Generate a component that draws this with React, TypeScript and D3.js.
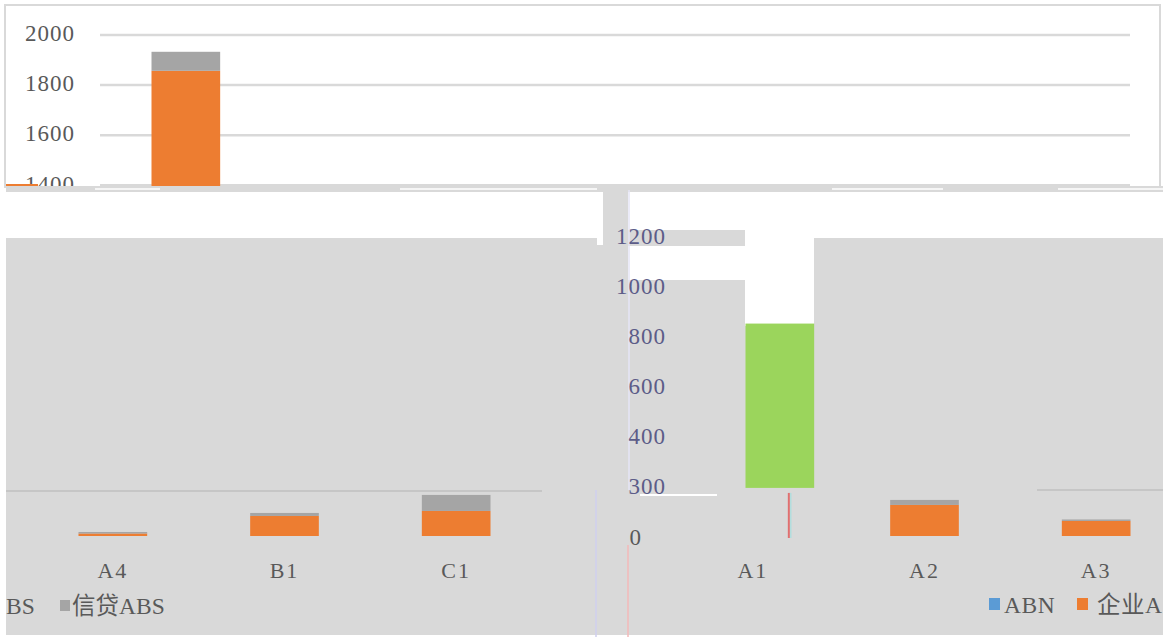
import React, { useEffect, useRef } from 'react'
import * as d3 from 'd3'

// chart values
const categories = ["A1", "A2", "A3", "A4", "B1", "C1"]
const abn = [0, 0, 0, 0, 0, 0]
const corpAbs = [1857, 124, 60, 10, 80, 100]
const creditAbs = [76, 20, 6, 6, 12, 64]
const leftCats = ["A4", "B1", "C1"]
const rightCats = ["A1", "A2", "A3"]
const greenSpan = [192, 848]
const abnSpike = [-8, 172]
const topTicks = [1400, 1600, 1800, 2000]
const midTicks = [200, 400, 600, 800, 1000, 1200]
const midTickLabels = ["300", "400", "600", "800", "1000", "1200"]
const seriesNames = ["ABN", "企业ABS", "信贷ABS"]
const seriesColors = ["#5b9bd5", "#ed7d31", "#a5a5a5"]

const GRAY = "#d9d9d9"
const TEXT = "#595959"
const FONT = "'Liberation Serif', 'Noto Sans CJK SC', serif"

function drawChart(el: SVGSVGElement) {
    const svg = d3.select(el)
    svg.selectAll("*").remove()

    const y = d3.scaleLinear().domain([0, 2000]).range([536, 35])
    const rows = categories.map((c, i) => ({ cat: c, "ABN": abn[i], "企业ABS": corpAbs[i], "信贷ABS": creditAbs[i] }))
    const stacked = d3.stack<any>().keys(seriesNames)(rows)
    const color = d3.scaleOrdinal<string, string>().domain(seriesNames).range(seriesColors)

    const defs = svg.append("defs")
    defs.append("clipPath").attr("id", "topClip")
        .append("rect").attr("x", 6).attr("y", 6).attr("width", 1153).attr("height", 181)

    svg.append("rect").attr("width", 1163).attr("height", 637).attr("fill", "white")

    // top panel
    svg.append("rect").attr("x", 5).attr("y", 5).attr("width", 1155).attr("height", 182)
        .attr("fill", "white").attr("stroke", GRAY).attr("stroke-width", 2)

    const top = svg.append("g").attr("clip-path", "url(#topClip)")
    top.selectAll("line.grid").data(topTicks).join("line")
        .attr("class", "grid")
        .attr("x1", 100).attr("x2", 1130)
        .attr("y1", d => y(d)).attr("y2", d => y(d))
        .attr("stroke", GRAY).attr("stroke-width", 2.5)
    top.selectAll("text.tick").data(topTicks).join("text")
        .attr("class", "tick")
        .attr("x", 75).attr("y", d => y(d) + 1)
        .attr("text-anchor", "end").attr("dominant-baseline", "middle")
        .attr("font-family", FONT).attr("font-size", 23).attr("letter-spacing", 1).attr("fill", TEXT)
        .text(d => d)

    const topX = d3.scaleBand().domain(categories).range([100, 1130]).paddingInner(0.6).paddingOuter(0.3)
    top.selectAll("g.series").data(stacked).join("g")
        .attr("class", "series")
        .attr("fill", d => color(d.key))
        .selectAll("rect").data(d => d).join("rect")
        .attr("x", d => topX(d.data.cat)!)
        .attr("width", topX.bandwidth())
        .attr("y", d => y(d[1]))
        .attr("height", d => Math.max(0, y(d[0]) - y(d[1])))
    top.append("line").attr("x1", 5).attr("x2", 38).attr("y1", 185).attr("y2", 185)
        .attr("stroke", "#ed7d31").attr("stroke-width", 2)

    // broken strips between the panels
    svg.append("rect").attr("x", 6).attr("y", 186).attr("width", 1157).attr("height", 6).attr("fill", GRAY)
    const whiteBits = [[95, 160], [400, 597], [832, 943], [1058, 1163]]
    svg.selectAll("line.bit").data(whiteBits).join("line")
        .attr("class", "bit")
        .attr("x1", d => d[0]).attr("x2", d => d[1]).attr("y1", 189).attr("y2", 189)
        .attr("stroke", "white").attr("stroke-width", 1.5)

    const patches = [
        { x: 6, y: 238, w: 1157, h: 397, f: GRAY },
        { x: 603, y: 192, w: 25, h: 46, f: GRAY },
        { x: 628, y: 238, w: 117, h: 42, f: "white" },
        { x: 745, y: 238, w: 69, h: 88, f: "white" },
        { x: 597, y: 238, w: 6, h: 7, f: "white" },
        { x: 620, y: 230, w: 125, h: 16, f: GRAY },
        { x: 640, y: 494, w: 77, h: 2, f: "white" },
    ]
    svg.selectAll("rect.patch").data(patches).join("rect")
        .attr("class", "patch")
        .attr("x", d => d.x).attr("y", d => d.y).attr("width", d => d.w).attr("height", d => d.h)
        .attr("fill", d => d.f)

    const streaks = [
        { x: 596, y1: 490, y2: 637, c: "#cfcfee" },
        { x: 629, y1: 190, y2: 490, c: "#e4e4f6" },
        { x: 628, y1: 545, y2: 637, c: "#f3b9b9" },
    ]
    svg.selectAll("line.streak").data(streaks).join("line")
        .attr("class", "streak")
        .attr("x1", d => d.x).attr("x2", d => d.x).attr("y1", d => d.y1).attr("y2", d => d.y2)
        .attr("stroke", d => d.c).attr("stroke-width", 1.5)

    // middle axis
    svg.selectAll("text.mid").data(midTicks).join("text")
        .attr("class", "mid")
        .attr("x", 666).attr("y", d => y(d) + 3)
        .attr("text-anchor", "end").attr("dominant-baseline", "middle")
        .attr("font-family", FONT).attr("font-size", 23).attr("letter-spacing", 1).attr("fill", "#5c5c88")
        .text((d, i) => midTickLabels[i])
    svg.append("text").attr("x", 641).attr("y", y(0) + 4)
        .attr("text-anchor", "end").attr("dominant-baseline", "middle")
        .attr("font-family", FONT).attr("font-size", 23).attr("fill", TEXT)
        .text("0")

    // lower gridlines
    svg.append("line").attr("x1", 6).attr("x2", 542).attr("y1", y(180)).attr("y2", y(180))
        .attr("stroke", "#bfbfbf").attr("stroke-width", 1.5)
    svg.append("line").attr("x1", 1037).attr("x2", 1163).attr("y1", y(184)).attr("y2", y(184))
        .attr("stroke", "#bfbfbf").attr("stroke-width", 1.5)

    const leftX = d3.scaleBand().domain(leftCats).range([27, 542]).paddingInner(0.6).paddingOuter(0.3)
    const rightX = d3.scaleBand().domain(rightCats).range([667, 1182]).paddingInner(0.6).paddingOuter(0.3)

    function catLabel(x: d3.ScaleBand<string>, c: string) {
        svg.append("text")
            .attr("x", x(c)! + x.bandwidth() / 2).attr("y", y(0) + 42)
            .attr("text-anchor", "middle")
            .attr("font-family", FONT).attr("font-size", 22).attr("fill", TEXT)
            .attr("letter-spacing", 2)
            .text(c)
    }

    function lowerBars(cats: string[], x: d3.ScaleBand<string>) {
        const g = svg.append("g")
        g.selectAll("g.series").data(stacked).join("g")
            .attr("class", "series")
            .attr("fill", d => color(d.key))
            .selectAll("rect").data(d => d.filter(p => cats.includes(p.data.cat))).join("rect")
            .attr("x", d => x(d.data.cat)!)
            .attr("width", x.bandwidth())
            .attr("y", d => y(d[1]))
            .attr("height", d => Math.max(0, y(d[0]) - y(d[1])))
    }
    lowerBars(leftCats, leftX)
    lowerBars(rightCats.filter(c => c !== "A1"), rightX)
    leftCats.forEach(c => catLabel(leftX, c))
    rightCats.forEach(c => catLabel(rightX, c))

    // A1 leftovers: green block and thin spike
    svg.append("rect")
        .attr("x", rightX("A1")! + 27).attr("width", rightX.bandwidth())
        .attr("y", y(greenSpan[1])).attr("height", y(greenSpan[0]) - y(greenSpan[1]))
        .attr("fill", "#9bd55c")
    const spikeX = rightX("A1")! + rightX.bandwidth() / 2 + 36
    svg.append("line").attr("x1", spikeX).attr("x2", spikeX)
        .attr("y1", y(abnSpike[1])).attr("y2", y(abnSpike[0]))
        .attr("stroke", "#e07070").attr("stroke-width", 2)
    svg.append("line").attr("x1", spikeX + 2).attr("x2", spikeX + 2)
        .attr("y1", y(abnSpike[1])).attr("y2", y(abnSpike[0]))
        .attr("stroke", "#9fe0e0").attr("stroke-width", 1)

    // legends (only the visible fragments of the outer items)
    const leftItems = [
        { name: seriesNames[2], sx: 60, tx: 72, label: seriesNames[2] },
    ]
    const legL = svg.append("g")
    legL.selectAll("rect").data(leftItems).join("rect")
        .attr("x", d => d.sx).attr("y", 600).attr("width", 10).attr("height", 11)
        .attr("fill", d => color(d.name))
    legL.selectAll("text").data(leftItems).join("text")
        .attr("x", d => d.tx).attr("y", 614)
        .attr("font-family", FONT).attr("font-size", 23.5).attr("fill", TEXT)
        .text(d => d.label)
    legL.append("text").attr("x", 6).attr("y", 614)
        .attr("font-family", FONT).attr("font-size", 23.5).attr("fill", TEXT)
        .text(seriesNames[1].slice(-2))

    const rightItems = [
        { name: seriesNames[0], sx: 989, tx: 1004, label: seriesNames[0] },
        { name: seriesNames[1], sx: 1077, tx: 1097, label: seriesNames[1].slice(0, 3) },
    ]
    const legR = svg.append("g")
    legR.selectAll("rect").data(rightItems).join("rect")
        .attr("x", d => d.sx).attr("y", 598).attr("width", 11).attr("height", 12)
        .attr("fill", d => color(d.name))
    legR.selectAll("text").data(rightItems).join("text")
        .attr("x", d => d.tx).attr("y", 613)
        .attr("font-family", FONT).attr("font-size", 23.5).attr("letter-spacing", 0.5).attr("fill", TEXT)
        .text(d => d.label)
}

export default function App() {
    const ref = useRef<SVGSVGElement>(null)
    useEffect(() => {
        if (ref.current) drawChart(ref.current)
    }, [])
    return (
        <svg ref={ref} width={1163} height={637}
            style={{ position: "absolute", left: 0, top: 0, display: "block" }} />
    )
}
